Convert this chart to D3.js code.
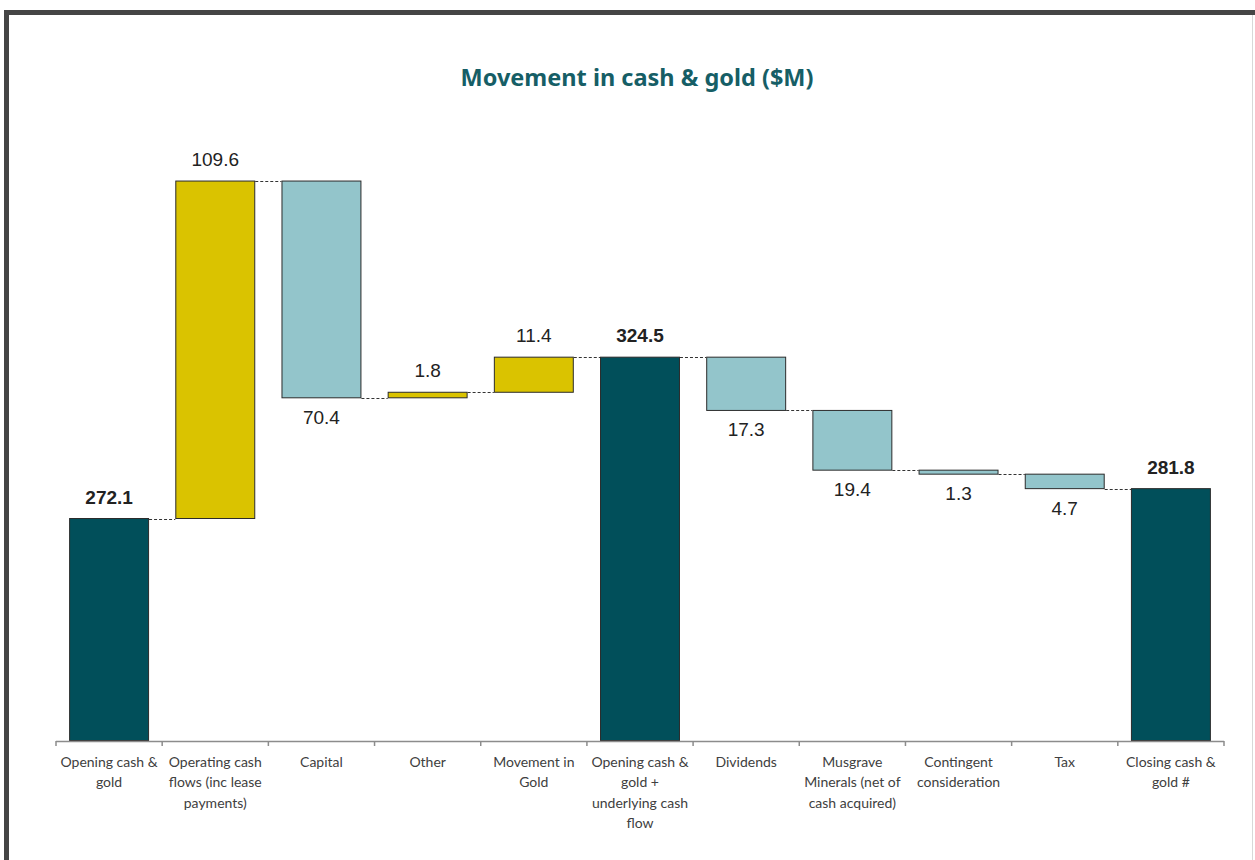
<!DOCTYPE html>
<html>
<head>
<meta charset="utf-8">
<script src="https://cdn.jsdelivr.net/npm/d3@7"></script>
<style>
  html, body { margin: 0; padding: 0; background: #fff; }
  svg { display: block; }
</style>
</head>
<body>
<svg id="chart" width="1255" height="860"></svg>
<script>
// ---- data ----
const categories = [
  "Opening cash &\ngold",
  "Operating cash\nflows (inc lease\npayments)",
  "Capital",
  "Other",
  "Movement in\nGold",
  "Opening cash &\ngold +\nunderlying cash\nflow",
  "Dividends",
  "Musgrave\nMinerals (net of\ncash acquired)",
  "Contingent\nconsideration",
  "Tax",
  "Closing cash &\ngold #"
];
const values = [272.1, 109.6, -70.4, 1.8, 11.4, 324.5, -17.3, -19.4, -1.3, -4.7, 281.8];
const kinds  = ["total", "inc", "dec", "inc", "inc", "total", "dec", "dec", "dec", "dec", "total"];
const labels = ["272.1", "109.6", "70.4", "1.8", "11.4", "324.5", "17.3", "19.4", "1.3", "4.7", "281.8"];
const yDomain = [200, 400];
const title = "Movement in cash & gold ($M)";

// ---- compute waterfall ----
let running = 0;
const rows = categories.map((c, i) => {
  let start, end;
  if (kinds[i] === "total") { start = yDomain[0]; end = values[i]; running = values[i]; }
  else { start = running; end = running + values[i]; running = end; }
  return { cat: c, i, kind: kinds[i], start, end, label: labels[i], level: running };
});

const colors = { total: "#014F5A", inc: "#DAC300", dec: "#93C5CB" };

const svg = d3.select("#chart");

// frame
svg.append("line").attr("x1", 6.5).attr("x2", 6.5).attr("y1", 10).attr("y2", 860)
  .attr("stroke", "#454545").attr("stroke-width", 5);
svg.append("line").attr("x1", 4).attr("x2", 1255).attr("y1", 12.5).attr("y2", 12.5)
  .attr("stroke", "#454545").attr("stroke-width", 5);
svg.append("line").attr("x1", 1252.5).attr("x2", 1252.5).attr("y1", 15).attr("y2", 860)
  .attr("stroke", "#d8d8d8").attr("stroke-width", 1);

const x = d3.scaleBand().domain(categories).range([56, 1224]).paddingInner(0.247).paddingOuter(0.1235);
const y = d3.scaleLinear().domain(yDomain).range([740.5, 740.5 - 200 * 3.079]);

// title
svg.append("text").attr("x", 637).attr("y", 86).attr("text-anchor", "middle")
  .attr("font-family", "'Noto Sans', sans-serif").attr("font-weight", "bold")
  .attr("font-size", 23.5).attr("fill", "#165E66").text(title);

// connectors
const g = svg.append("g");
for (let i = 0; i < rows.length - 1; i++) {
  const lv = rows[i].end;
  g.append("line")
    .attr("x1", x(rows[i].cat) + x.bandwidth())
    .attr("x2", x(rows[i + 1].cat))
    .attr("y1", Math.round(y(lv)) + 0.5).attr("y2", Math.round(y(lv)) + 0.5)
    .attr("stroke", "#333").attr("stroke-width", 1).attr("stroke-dasharray", "3,2");
}

// bars
g.selectAll("rect.bar").data(rows).join("rect")
  .attr("class", "bar")
  .attr("x", d => x(d.cat) + 0.5)
  .attr("width", x.bandwidth() - 1)
  .attr("y", d => y(Math.max(d.start, d.end)))
  .attr("height", d => Math.max(1, Math.abs(y(d.start) - y(d.end))))
  .attr("fill", d => colors[d.kind])
  .attr("stroke", "#2b2b2b").attr("stroke-width", 1);

// value labels
g.selectAll("text.val").data(rows).join("text")
  .attr("class", "val")
  .attr("x", d => x(d.cat) + x.bandwidth() / 2)
  .attr("y", d => d.kind === "dec" ? y(Math.min(d.start, d.end)) + 26 : y(Math.max(d.start, d.end)) - 15)
  .attr("text-anchor", "middle")
  .attr("font-family", "'Liberation Sans', Arial, sans-serif")
  .attr("font-size", 19)
  .attr("font-weight", d => d.kind === "total" ? "bold" : "normal")
  .attr("fill", "#222")
  .text(d => d.label);

// axis
const axisG = svg.append("g").attr("transform", "translate(0,741)");
axisG.append("line").attr("x1", 56).attr("x2", 1224).attr("y1", 0.5).attr("y2", 0.5)
  .attr("stroke", "#8c8c8c").attr("stroke-width", 1.5);
const tickXs = categories.map(c => x(c) - x.step() * x.paddingInner() / 2);
tickXs.push(1224);
axisG.selectAll("line.tick").data(tickXs).join("line").attr("class", "tick")
  .attr("x1", d => d).attr("x2", d => d).attr("y1", 0).attr("y2", 5)
  .attr("stroke", "#8c8c8c").attr("stroke-width", 1.5);

const lab = axisG.selectAll("text.cat").data(categories).join("text").attr("class", "cat")
  .attr("x", d => x(d) + x.bandwidth() / 2)
  .attr("y", 26)
  .attr("text-anchor", "middle")
  .attr("font-family", "Lato, sans-serif")
  .attr("font-size", 14)
  .attr("fill", "#404040");
lab.each(function(d) {
  const t = d3.select(this);
  d.split("\n").forEach((line, k) => {
    t.append("tspan").attr("x", x(d) + x.bandwidth() / 2).attr("dy", k === 0 ? 0 : 20.3).text(line);
  });
});
</script>
</body>
</html>
